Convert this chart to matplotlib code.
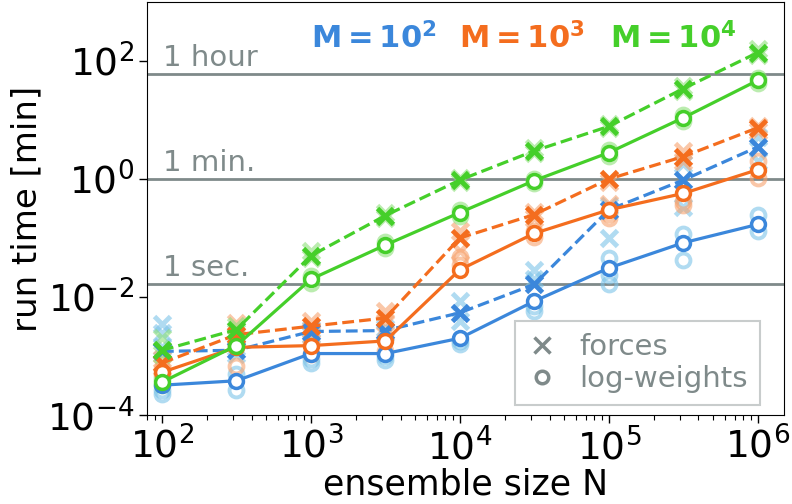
import matplotlib
matplotlib.use("Agg")
import matplotlib.pyplot as plt
from matplotlib.lines import Line2D
from matplotlib.ticker import LogLocator, NullLocator
import matplotlib.transforms as mtransforms

# ---------------------------------------------------------------------------
# Data (run time in minutes vs ensemble size N)
# ---------------------------------------------------------------------------
ensemble_sizes = [100, 316, 1000, 3162, 10000, 31623, 100000, 316228, 1000000]

ensemble_labels = [r"$\mathbf{M=10^2}$", r"$\mathbf{M=10^3}$", r"$\mathbf{M=10^4}$"]

blue_forces = [1.2e-3, 1.25e-3, 2.6e-3, 2.7e-3, 5.4e-3, 1.64e-2, 0.30, 0.96, 3.5]
blue_logw = [3.2e-4, 3.8e-4, 1.1e-3, 1.1e-3, 2.0e-3, 8.5e-3, 0.031, 0.083, 0.17]
orange_forces = [7.6e-4, 2.3e-3, 3.2e-3, 4.4e-3, 0.10, 0.25, 1.0, 2.4, 7.4]
orange_logw = [5.3e-4, 1.4e-3, 1.5e-3, 1.8e-3, 0.029, 0.12, 0.30, 0.57, 1.44]
green_forces = [1.25e-3, 2.8e-3, 0.05, 0.24, 0.96, 3.0, 7.8, 34, 139]
green_logw = [3.6e-4, 1.5e-3, 0.02, 0.076, 0.27, 0.94, 2.8, 10.9, 47]

# individual runs (faint markers), one list per ensemble size
blue_forces_runs = [[3.5e-3, 2.5e-3, 1.4e-3], [1.4e-3, 1.1e-3], [2.3e-3, 2.9e-3],
                    [2.5e-3, 3.0e-3], [8.5e-3, 3.9e-3], [0.029, 0.020],
                    [0.10, 0.35], [0.33, 1.8], [5.1, 2.0]]
blue_logw_runs = [[2.3e-4, 2.7e-4], [2.7e-4, 4.9e-4], [7.6e-4, 9e-4],
                  [8.7e-4, 1.0e-3], [1.8e-3, 1.6e-3], [5.8e-3, 7e-3],
                  [0.046, 0.024, 0.0164], [0.116, 0.042], [0.25, 0.13]]
orange_forces_runs = [[9e-4, 6.5e-4], [3.6e-3, 2.0e-3], [3.9e-3, 2.8e-3],
                      [5.8e-3, 3.8e-3], [0.13, 0.06], [0.28, 0.22],
                      [0.88, 0.38], [3.0, 2.0], [8.0, 6.5]]
orange_logw_runs = [[6e-4, 4.8e-4], [6.7e-4, 1.6e-3], [1.1e-3, 1.7e-3],
                    [1.2e-3, 2.0e-3], [0.047, 0.035], [0.13, 0.105],
                    [0.22, 0.26], [0.43, 0.36], [1.06, 2.0]]
green_forces_runs = [[2.0e-3, 1.1e-3], [3.2e-3, 2.6e-3], [0.06, 0.045],
                     [0.27, 0.22], [1.05, 0.9], [3.3, 2.8], [8.5, 7.2],
                     [38, 31], [160, 125]]
green_logw_runs = [[3.2e-4, 4.0e-4], [1.4e-3, 1.7e-3], [0.017, 0.023],
                   [0.068, 0.085], [0.24, 0.30], [0.85, 1.0], [2.5, 3.1],
                   [9.5, 12], [42, 52]]

reference_times = [60.0, 1.0, 1.0 / 60.0]
reference_labels = ["1 hour", "1 min.", "1 sec."]

# ---------------------------------------------------------------------------
# Style
# ---------------------------------------------------------------------------
BLUE = "#3b87db"
ORANGE = "#f46d1e"
GREEN = "#45cf2a"
LIGHT = {"blue": "#7cc3e8", "orange": "#f7a36e", "green": "#8ee07a"}
GRAY = "#7f8a8a"

series = [
    (BLUE, LIGHT["blue"], blue_forces, blue_logw, blue_forces_runs, blue_logw_runs),
    (ORANGE, LIGHT["orange"], orange_forces, orange_logw, orange_forces_runs, orange_logw_runs),
    (GREEN, LIGHT["green"], green_forces, green_logw, green_forces_runs, green_logw_runs),
]

fig = plt.figure(figsize=(7.92, 5.04), dpi=100)
ax = fig.add_axes([0.1856, 0.1766, 0.8043, 0.8194])

ax.set_xscale("log")
ax.set_yscale("log")
ax.set_xlim(79.4, 1.5e6)
ax.set_ylim(1e-4, 1e3)

# reference lines
trans = mtransforms.blended_transform_factory(ax.transAxes, ax.transData)
for t, lab in zip(reference_times, reference_labels):
    ax.axhline(t, color=GRAY, lw=2, zorder=1)
    ax.text(0.025, t * 1.08, lab, transform=trans, color=GRAY, fontsize=21,
            va="bottom", ha="left", zorder=1)

# faint individual runs
for col, light, fmean, lmean, fruns, lruns in series:
    for n, vals in zip(ensemble_sizes, fruns):
        ax.plot([n] * len(vals), vals, ls="none", marker="x", ms=11, mew=3.5,
                color=light, alpha=0.6, zorder=2)
    for n, vals in zip(ensemble_sizes, lruns):
        ax.plot([n] * len(vals), vals, ls="none", marker="o", ms=10, mew=2.8,
                mfc="none", mec=light, alpha=0.6, zorder=2)

# means
for col, light, fmean, lmean, fruns, lruns in series:
    ax.plot(ensemble_sizes, fmean, ls="--", lw=2.3, color=col, marker="x",
            ms=12, mew=3.5, zorder=3)
    ax.plot(ensemble_sizes, lmean, ls="-", lw=2.3, color=col, marker="o",
            ms=10, mew=2.5, mfc="white", mec=col, zorder=3)

# ensemble labels
for lab, col, xf in zip(ensemble_labels, [BLUE, ORANGE, GREEN], [0.356, 0.588, 0.826]):
    ax.text(xf, 0.912, lab, transform=ax.transAxes, color=col, fontsize=22,
            ha="center", va="center")

ax.set_yticks([1e-4, 1e-2, 1e0, 1e2])
ax.yaxis.set_minor_locator(NullLocator())
ax.set_xticks([1e2, 1e3, 1e4, 1e5, 1e6])
ax.xaxis.set_minor_locator(LogLocator(base=10, subs=range(2, 10), numticks=20))

ax.tick_params(axis="both", which="major", labelsize=27, length=6, width=1,
               pad=3)
ax.tick_params(axis="x", which="minor", length=3.5, width=0.8)

ax.set_xlabel("ensemble size N", fontsize=25, labelpad=0)
ax.set_ylabel("run time [min]", fontsize=24.5, labelpad=3)

handles = [
    Line2D([], [], ls="none", marker="x", ms=12, mew=2.5, color=GRAY),
    Line2D([], [], ls="none", marker="o", ms=9, mew=2.5, mfc="none", mec=GRAY),
]
leg = ax.legend(handles, ["forces", "log-weights"], loc="lower right",
                fontsize=21, fancybox=False, framealpha=1, edgecolor="#c8cccc",
                handlelength=1.0, handletextpad=0.8, borderpad=0.4,
                labelspacing=0.15, borderaxespad=0,
                bbox_to_anchor=(0.962, 0.024))
leg.get_frame().set_linewidth(1.5)
for txt in leg.get_texts():
    txt.set_color(GRAY)

fig.savefig("out.png", dpi=100)
